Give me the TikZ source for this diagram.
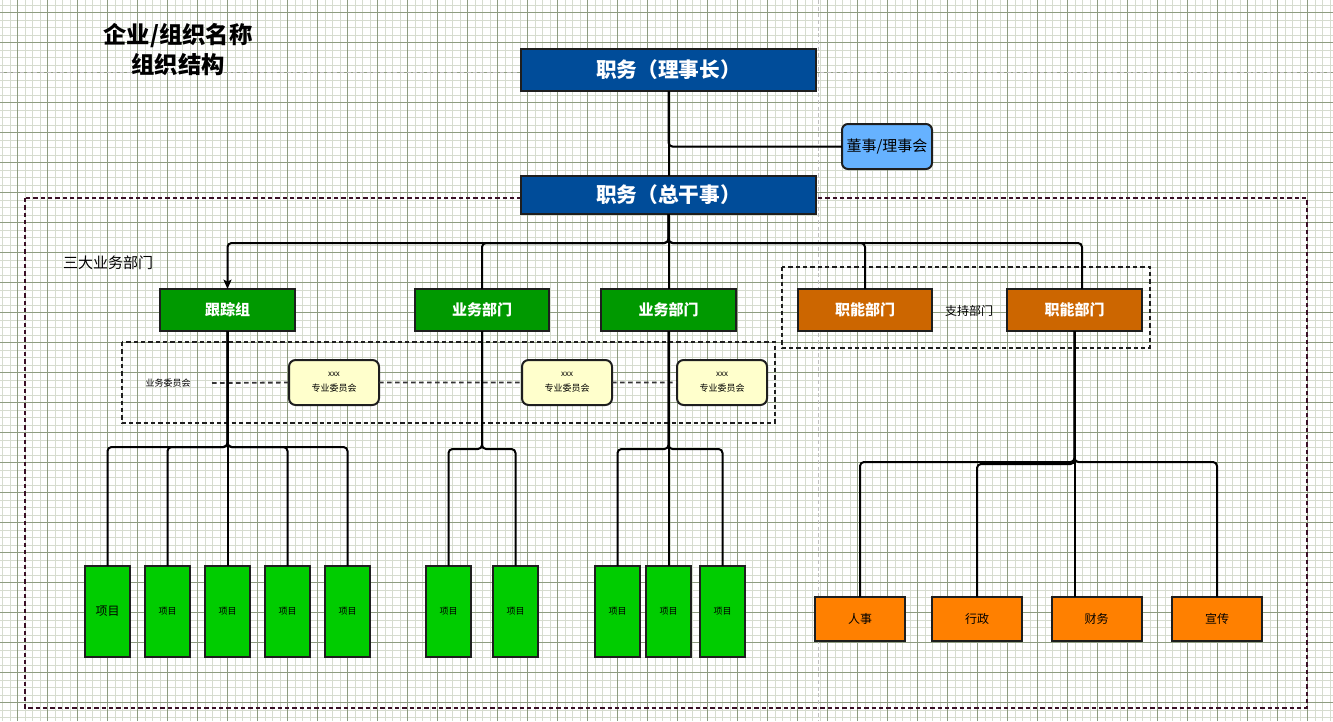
\documentclass[tikz,border=0pt]{standalone}
\usepackage{fontspec}
\setmainfont{Noto Sans CJK SC}
\usetikzlibrary{arrows.meta,calc}
\definecolor{bd}{HTML}{1E1E1E}
\definecolor{hblue}{HTML}{004C99}
\definecolor{lblue}{HTML}{66B2FF}
\definecolor{dgreen}{HTML}{009900}
\definecolor{dorange}{HTML}{CC6600}
\definecolor{lyellow}{HTML}{FFFFCC}
\definecolor{pgreen}{HTML}{00CC00}
\definecolor{porange}{HTML}{FF8000}
\definecolor{gmajor}{HTML}{8E9C80}
\definecolor{gminor}{HTML}{D6DCCF}
\definecolor{outerd}{HTML}{3A0F26}
\begin{document}
\begin{tikzpicture}[x=0.75pt,y=-0.75pt,
  box/.style={draw=bd,line width=1.5pt,inner sep=0pt,outer sep=0pt,align=center},
  sz/.style 2 args={minimum width=#1*0.75pt,minimum height=#2*0.75pt},
  hdr/.style={box,fill=hblue,text=white,font=\fontsize{15.5}{18}\selectfont\bfseries,sz={295}{#1}},
  dept/.style={box,text=white,font=\fontsize{11.25}{13}\selectfont\bfseries,sz={135}{42}},
  comm/.style={box,rounded corners=5pt,fill=lyellow,sz={90}{45}},
  proj/.style={box,fill=pgreen,sz={45}{91},font=\fontsize{6.75}{8}\selectfont},
  func/.style={box,fill=porange,sz={90}{44},font=\fontsize{9}{11}\selectfont},
  conn/.style={line width=1.5pt,rounded corners=3pt},
  dbox/.style={line width=1.1pt,dash pattern=on 3.2pt off 2.3pt},
  lbl/.style={inner sep=0pt}]
\useasboundingbox (0,0) rectangle (1333,721);
\fill[white] (0,0) rectangle (1333,721);
% grid
\foreach \i in {0,...,178} {\draw[gminor,line width=0.45pt] (2.3+7.5*\i,0) -- (2.3+7.5*\i,721);}
\foreach \i in {0,...,96} {\draw[gminor,line width=0.45pt] (0,5.2+7.5*\i) -- (1333,5.2+7.5*\i);}
\foreach \i in {0,...,44} {\draw[gmajor,line width=0.6pt] (17.3+30*\i,0) -- (17.3+30*\i,721);}
\foreach \i in {0,...,23} {\draw[gmajor,line width=0.6pt] (0,12.7+30*\i) -- (1333,12.7+30*\i);}
\draw[black!25,line width=0.6pt,dash pattern=on 3pt off 2pt] (818.7,0) -- (818.7,721);
\draw[black!25,line width=0.6pt,dash pattern=on 3pt off 2pt] (0,72) -- (1333,72);
% title
\node[lbl,align=center,font=\fontsize{17.5}{22.5}\selectfont\bfseries] (title) at (178,50) {企业/组织名称\\组织结构};
% dashed groups
\draw[dbox,outerd] (25,198) rectangle (1307,708);
\draw[dbox,bd] (122,342) rectangle (775,423);
\draw[dbox,bd] (782,267) rectangle (1150,348);
\node[lbl,font=\fontsize{11.25}{13}\selectfont] (sd) at (108,263) {三大业务部门};
\node[lbl,font=\fontsize{6.75}{8}\selectfont] (yw) at (168,383) {业务委员会};
\node[lbl,font=\fontsize{9}{11}\selectfont] (zc) at (969,311) {支持部门};
% top
\node[hdr={42}] (ls) at (668.5,70) {职务（理事长）};
\node[hdr={38}] (zg) at (668.5,195) {职务（总干事）};
\node[box,rounded corners=4.5pt,fill=lblue,sz={90}{45},font=\fontsize{11.25}{13}\selectfont] (ds) at (887,146.5) {董事/理事会};
% departments
\node[dept,fill=dgreen] (gz) at (227.5,310) {跟踪组};
\node[dept,fill=dgreen,sz={134}{42}] (b1) at (482,310) {业务部门};
\node[dept,fill=dgreen] (b2) at (668.5,310) {业务部门};
\node[dept,fill=dorange,sz={134}{42}] (zn1) at (865,310) {职能部门};
\node[dept,fill=dorange] (zn2) at (1074.5,310) {职能部门};
% committees
\foreach \n/\x in {c1/334,c2/567,c3/722}
  \node[comm] (\n) at (\x,382.5) {{\fontsize{6}{7}\selectfont xxx}\\[-1pt]{\fontsize{6.75}{8}\selectfont 专业委员会}};
\coordinate (dl) at (212,383);
\draw[bd!90,line width=1.4pt,dash pattern=on 3.5pt off 2.5pt] (dl) -- (c1.west) (c1.east) -- (c2.west) (c2.east) -- (c3.west);
% projects
\node[proj,font=\fontsize{9}{11}\selectfont] (p1) at (107.5,611.5) {项目};
\foreach \n/\x in {p2/167.5,p3/227.5,p4/287.5,p5/347.5,p6/448.5,p7/515.5,p8/617.5,p9/668.5,p10/722.5}
  \node[proj] (\n) at (\x,611.5) {项目};
% functional
\node[func] (rs) at (860,619) {人事};
\node[func] (xz) at (977,619) {行政};
\node[func] (cw) at (1096.5,619) {财务};
\node[func] (xc) at (1217,619) {宣传};
% connectors
\draw[conn] (ls.south) -- (zg.north);
\draw[conn] (ls.south) |- (ds.west);
\draw[conn,-{Stealth[length=7pt,width=6pt,inset=1.5pt]}] (zg.south) -- ++(0,29) -| (gz.north);
\draw[conn] (zg.south) -- ++(0,29) -| (b1.north);
\draw[conn] (zg.south) -- (b2.north);
\draw[conn] (zg.south) -- ++(0,29) -| (zn1.north);
\draw[conn] (zg.south) -- ++(0,29) -| ($(zn2.north)+(7.5,0)$);
\foreach \p in {p1,p2,p3,p4,p5}
  \draw[conn] (gz.south) -- ++(0,116) -| (\p.north);
\foreach \p in {p6,p7}
  \draw[conn] (b1.south) -- ++(0,118) -| (\p.north);
\foreach \p in {p8,p9,p10}
  \draw[conn] (b2.south) -- ++(0,118) -| (\p.north);
\draw[conn] (zn2.south) -- ++(0,131) -| (rs.north);
\draw[conn] (zn2.south) -- ++(0,133) -| (xz.north);
\draw[conn] (zn2.south) -- (zn2.south |- cw.north);
\draw[conn] (zn2.south) -- ++(0,131) -| (xc.north);
\end{tikzpicture}
\end{document}
